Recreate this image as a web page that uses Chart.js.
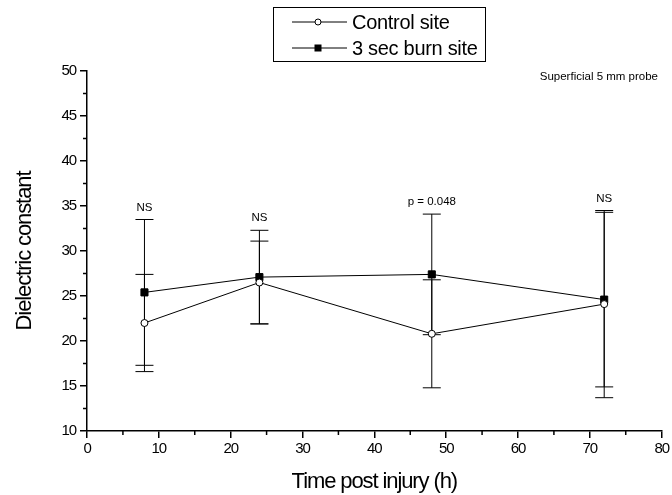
<!DOCTYPE html>
<html>
<head>
<meta charset="utf-8">
<script src="https://cdn.jsdelivr.net/npm/chart.js@4/dist/chart.umd.min.js"></script>
<style>
  html, body { margin: 0; padding: 0; background: #fff; }
  #wrap { width: 672px; height: 495px; position: relative; }
</style>
</head>
<body>
<div id="wrap"><canvas id="chart"></canvas></div>
<script>
// values
const hours = [8, 24, 48, 72];
const controlMean = [22.0, 26.5, 20.8, 24.1];
const controlSd = [5.4, 4.6, 6.0, 10.4];
const burnMean = [25.4, 27.1, 27.4, 24.6];
const burnSd = [8.1, 5.2, 6.7, 9.7];
const sigLabels = ['NS', 'NS', 'p = 0.048', 'NS'];
const seriesNames = ['Control site', '3 sec burn site'];
const yTicks = [10, 15, 20, 25, 30, 35, 40, 45, 50];
const xTicks = [0, 10, 20, 30, 40, 50, 60, 70, 80];

const sans = "'Liberation Sans', Arial, sans-serif";

// the original uses a condensed Arial look, squeeze letters a bit
const tightText = {
    id: 'tightText',
    beforeDraw(chart) {
        chart.ctx.letterSpacing = '-1.1px';
    }
};

// error bars, significance labels, minor ticks, legend box
const errorBars = {
    id: 'errorBars',
    beforeDatasetsDraw(chart) {
        const ctx = chart.ctx;
        const xs = chart.scales.x, ys = chart.scales.y;
        ctx.save();
        ctx.strokeStyle = '#000';
        ctx.lineWidth = 1;
        chart.data.datasets.forEach(ds => {
            ds.data.forEach(p => {
                const x = xs.getPixelForValue(p.x);
                const top = ys.getPixelForValue(p.y + p.sd);
                const bot = ys.getPixelForValue(p.y - p.sd);
                ctx.beginPath();
                ctx.moveTo(x, top); ctx.lineTo(x, bot);
                ctx.moveTo(x - 9, top); ctx.lineTo(x + 9, top);
                ctx.moveTo(x - 9, bot); ctx.lineTo(x + 9, bot);
                ctx.stroke();
            });
        });
        ctx.restore();
    },
    afterDraw(chart) {
        const ctx = chart.ctx;
        const xs = chart.scales.x, ys = chart.scales.y;
        ctx.save();
        ctx.letterSpacing = '0px';
        ctx.fillStyle = '#000';
        ctx.font = '11.5px ' + sans;
        ctx.textAlign = 'center';
        ctx.textBaseline = 'middle';
        hours.forEach((h, i) => {
            const hi = Math.max(controlMean[i] + controlSd[i], burnMean[i] + burnSd[i]);
            ctx.fillText(sigLabels[i], xs.getPixelForValue(h), ys.getPixelForValue(hi) - 12);
        });

        // probe note
        ctx.textAlign = 'right';
        ctx.fillText('Superficial 5 mm probe', 658, 77);

        // minor ticks
        ctx.strokeStyle = '#000';
        ctx.lineWidth = 1.5;
        ctx.beginPath();
        for (let v = 12.5; v < 50; v += 5) {
            const y = ys.getPixelForValue(v);
            ctx.moveTo(xs.left - 4, y); ctx.lineTo(xs.left, y);
        }
        for (let v = 5; v < 80; v += 10) {
            const x = xs.getPixelForValue(v);
            ctx.moveTo(x, ys.bottom); ctx.lineTo(x, ys.bottom + 4);
        }
        ctx.stroke();

        // legend box
        const bx = 273, by = 7, bw = 212, bh = 54;
        ctx.lineWidth = 1;
        ctx.strokeRect(bx + 0.5, by + 0.5, bw, bh);
        ctx.font = '20px ' + sans;
        ctx.letterSpacing = '-0.3px';
        ctx.textAlign = 'left';
        chart.data.datasets.forEach((ds, i) => {
            const cy = by + 15 + i * 26;
            ctx.beginPath();
            ctx.moveTo(292, cy); ctx.lineTo(347, cy);
            ctx.stroke();
            if (ds.pointStyle === 'circle') {
                ctx.beginPath();
                ctx.arc(318, cy, 3, 0, Math.PI * 2);
                ctx.fillStyle = '#fff';
                ctx.fill();
                ctx.stroke();
            } else {
                ctx.fillStyle = '#000';
                ctx.fillRect(314.5, cy - 3.5, 7, 7);
            }
            ctx.fillStyle = '#000';
            ctx.fillText(ds.label, 352, cy + 1);
        });
        ctx.restore();
    }
};

const controlData = hours.map((h, i) => ({ x: h, y: controlMean[i], sd: controlSd[i] }));
const burnData = hours.map((h, i) => ({ x: h, y: burnMean[i], sd: burnSd[i] }));

new Chart(document.getElementById('chart').getContext('2d'), {
    type: 'line',
    data: {
        datasets: [
            {
                label: seriesNames[0],
                data: controlData,
                borderColor: '#000',
                borderWidth: 1,
                pointStyle: 'circle',
                pointRadius: 3.5,
                pointBackgroundColor: '#fff',
                pointBorderColor: '#000',
                pointBorderWidth: 1,
                tension: 0
            },
            {
                label: seriesNames[1],
                data: burnData,
                borderColor: '#000',
                borderWidth: 1,
                pointStyle: 'rect',
                pointRadius: 5,
                pointBackgroundColor: '#000',
                pointBorderColor: '#000',
                pointBorderWidth: 1,
                tension: 0
            }
        ]
    },
    options: {
        responsive: true,
        maintainAspectRatio: false,
        animation: false,
        layout: { padding: { top: 71, right: 10, left: 0, bottom: 0 } },
        plugins: {
            legend: { display: false },
            tooltip: { enabled: false }
        },
        scales: {
            x: {
                type: 'linear',
                min: 0,
                max: 80,
                afterFit: s => { s.height = 64; },
                afterBuildTicks: s => { s.ticks = xTicks.map(v => ({ value: v })); },
                grid: { display: true, drawOnChartArea: false, tickLength: 7, color: '#000', lineWidth: 1.5 },
                border: { display: true, color: '#000', width: 1.5 },
                ticks: { color: '#000', font: { family: sans, size: 15 }, padding: 2, maxRotation: 0 },
                title: {
                    display: true,
                    text: 'Time post injury (h)',
                    color: '#000',
                    font: { family: sans, size: 22 },
                    padding: { top: 0, bottom: 0 }
                }
            },
            y: {
                min: 10,
                max: 50,
                afterFit: s => { s.width = 87; },
                afterBuildTicks: s => { s.ticks = yTicks.map(v => ({ value: v })); },
                grid: { display: true, drawOnChartArea: false, tickLength: 7, color: '#000', lineWidth: 1.5 },
                border: { display: true, color: '#000', width: 1.5 },
                ticks: { color: '#000', font: { family: sans, size: 15 }, padding: 4 },
                title: {
                    display: true,
                    text: 'Dielectric constant',
                    color: '#000',
                    font: { family: sans, size: 22 },
                    padding: { top: 12, bottom: 0 }
                }
            }
        }
    },
    plugins: [tightText, errorBars]
});
</script>
</body>
</html>
